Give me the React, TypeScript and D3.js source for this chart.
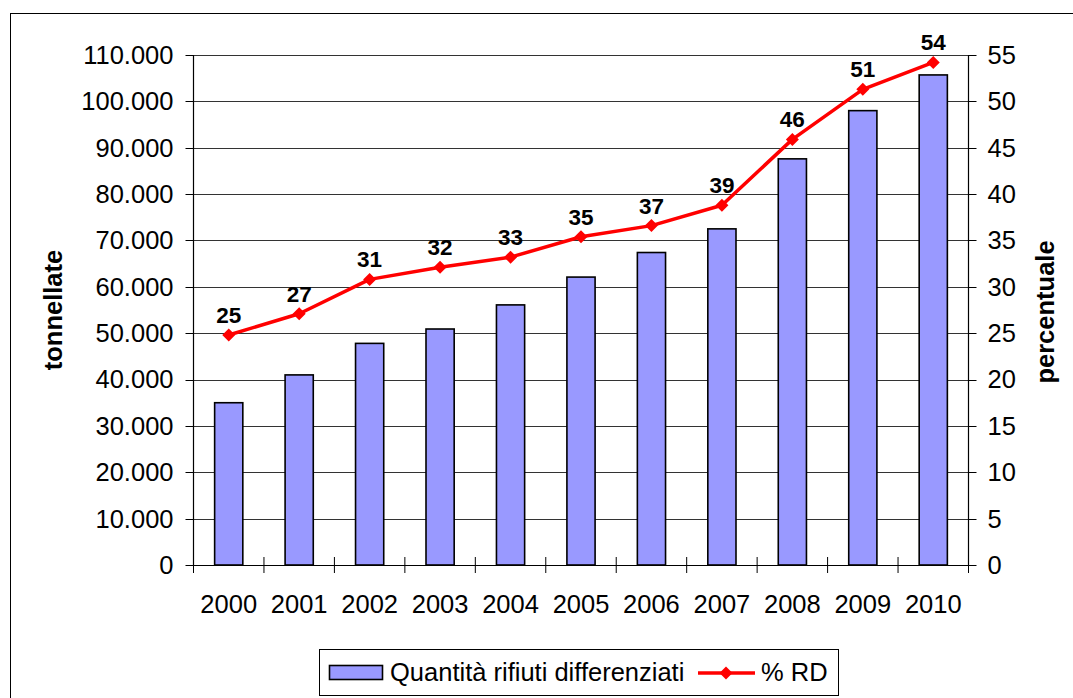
import React from "react";
import * as d3 from "d3";

const years = ["2000", "2001", "2002", "2003", "2004", "2005", "2006", "2007", "2008", "2009", "2010"];
const tonnellate = [35000, 41000, 47800, 50900, 56100, 62100, 67400, 72500, 87600, 98000, 105700];
const percentuale = [24.8, 27.1, 30.8, 32.1, 33.2, 35.4, 36.6, 38.8, 45.9, 51.3, 54.2];
const leftTicks = [0, 10000, 20000, 30000, 40000, 50000, 60000, 70000, 80000, 90000, 100000, 110000];
const rightTicks = [0, 5, 10, 15, 20, 25, 30, 35, 40, 45, 50, 55];
const barLabel = "Quantità rifiuti differenziati";
const lineLabel = "% RD";

const FONT = "'Liberation Sans', Arial, sans-serif";
const FS = 25.5;

export default function App() {
  const left = 193.5, right = 968.5, top = 55, bottom = 565;
  const x = d3.scaleBand<string>().domain(years).range([left, right]).paddingInner(0).paddingOuter(0);
  const yL = d3.scaleLinear().domain([0, 110000]).range([bottom, top]);
  const yR = d3.scaleLinear().domain([0, 55]).range([bottom, top]);
  const bw = x.bandwidth() / 2.5;
  const fmt = (v: number) => (v === 0 ? "0" : d3.format(",")(v).replace(/,/g, "."));
  const line = d3
    .line<number>()
    .x((_, i) => (x(years[i]) as number) + x.bandwidth() / 2)
    .y((d) => yR(d));
  const diamond = (cx: number, cy: number, r: number) =>
    `M${cx},${cy - r}L${cx + r},${cy}L${cx},${cy + r}L${cx - r},${cy}Z`;

  return (
    <svg
      width={1073}
      height={698}
      style={{ position: "absolute", left: 0, top: 0, background: "#fff" }}
      fontFamily={FONT}
    >
      <rect x={10.5} y={13.5} width={1080} height={700} fill="#fff" stroke="#000" strokeWidth={1} />
      {/* gridlines */}
      {leftTicks.map((t) => (
        <line key={"g" + t} x1={left} x2={right} y1={Math.round(yL(t)) + 0.5} y2={Math.round(yL(t)) + 0.5} stroke="#333" strokeWidth={1} />
      ))}
      {/* bars */}
      {tonnellate.map((v, i) => {
        const cx = (x(years[i]) as number) + x.bandwidth() / 2;
        return (
          <rect
            key={"b" + i}
            x={cx - bw / 2}
            y={yL(v)}
            width={bw}
            height={bottom - yL(v)}
            fill="#9999FF"
            stroke="#000"
            strokeWidth={1.6}
          />
        );
      })}
      {/* axes */}
      <line x1={left} x2={left} y1={top} y2={bottom} stroke="#000" strokeWidth={1.2} />
      <line x1={right} x2={right} y1={top} y2={bottom} stroke="#000" strokeWidth={1.2} />
      <line x1={left} x2={right} y1={bottom + 0.5} y2={bottom + 0.5} stroke="#000" strokeWidth={1.2} />
      {leftTicks.map((t) => (
        <g key={"lt" + t}>
          <line x1={left - 8} x2={left} y1={Math.round(yL(t)) + 0.5} y2={Math.round(yL(t)) + 0.5} stroke="#000" />
          <text x={left - 20} y={yL(t)} dy="0.35em" textAnchor="end" fontSize={FS} fill="#000">
            {fmt(t)}
          </text>
        </g>
      ))}
      {rightTicks.map((t) => (
        <g key={"rt" + t}>
          <line x1={right} x2={right + 8} y1={Math.round(yR(t)) + 0.5} y2={Math.round(yR(t)) + 0.5} stroke="#000" />
          <text x={right + 19} y={yR(t)} dy="0.35em" textAnchor="start" fontSize={FS} fill="#000">
            {t}
          </text>
        </g>
      ))}
      {years.map((yr) => {
        const x0 = x(yr) as number;
        return (
          <g key={"xt" + yr}>
            <line x1={x0} x2={x0} y1={bottom - 8} y2={bottom + 8} stroke="#000" />
            <text x={x0 + x.bandwidth() / 2} y={613} textAnchor="middle" fontSize={FS} fill="#000">
              {yr}
            </text>
          </g>
        );
      })}
      <line x1={right} x2={right} y1={bottom - 8} y2={bottom + 8} stroke="#000" />
      {/* line series */}
      <path d={line(percentuale) as string} fill="none" stroke="#FF0000" strokeWidth={3.5} strokeLinejoin="round" />
      {percentuale.map((v, i) => {
        const cx = (x(years[i]) as number) + x.bandwidth() / 2;
        return (
          <g key={"p" + i}>
            <path d={diamond(cx, yR(v), 6.5)} fill="#FF0000" />
            <text x={cx} y={yR(v) - 12} textAnchor="middle" fontSize={22.5} fontWeight="bold" fill="#000">
              {Math.round(v)}
            </text>
          </g>
        );
      })}
      {/* axis titles */}
      <text transform={`translate(62,${(top + bottom) / 2}) rotate(-90)`} textAnchor="middle" fontSize={FS} fontWeight="bold" fill="#000">
        tonnellate
      </text>
      <text transform={`translate(1054,${(top + bottom) / 2 + 2}) rotate(-90)`} textAnchor="middle" fontSize={FS} fontWeight="bold" fill="#000">
        percentuale
      </text>
      {/* legend */}
      <rect x={319.5} y={649.5} width={519} height={46} fill="#fff" stroke="#000" strokeWidth={1} />
      <rect x={329.5} y={665.5} width={53} height={14} fill="#9999FF" stroke="#000" strokeWidth={1.6} />
      <text x={390} y={681} fontSize={FS} fill="#000">
        {barLabel}
      </text>
      <line x1={698} x2={755} y1={673} y2={673} stroke="#FF0000" strokeWidth={3.5} />
      <path d={diamond(726, 673, 6.5)} fill="#FF0000" />
      <text x={761} y={681} fontSize={FS} fill="#000">
        {lineLabel}
      </text>
    </svg>
  );
}
